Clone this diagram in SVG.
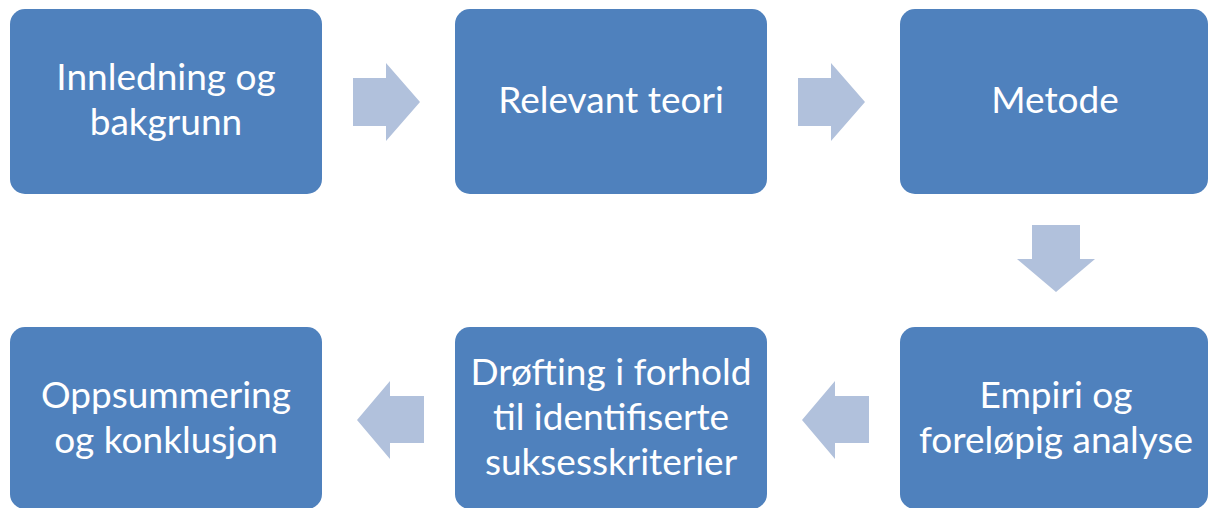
<svg xmlns="http://www.w3.org/2000/svg" width="1208" height="508" viewBox="0 0 1208 508">
  <style>
    .box { fill: #4F81BD; }
    .arrow { fill: #B1C1DC; }
    .label { fill: #FFFFFF; font-family: Lato, "Open Sans", "Liberation Sans", sans-serif; font-size: 37px; text-anchor: middle; }
  </style>
  <rect width="1208" height="508" fill="#FFFFFF"/>
  <g id="connectors">
    <polygon class="arrow" points="353,78 386,78 386,63 420,102 386,141 386,126 353,126"/>
    <polygon class="arrow" points="798,78 831,78 831,63 865,102 831,141 831,126 798,126"/>
    <polygon class="arrow" points="1032,225 1080,225 1080,259 1095,259 1056,292 1017,259 1032,259"/>
    <polygon class="arrow" points="869,396 835,396 835,381 802,420 835,459 835,443 869,443"/>
    <polygon class="arrow" points="424,396 390,396 390,381 357,420 390,459 390,443 424,443"/>
  </g>
  <g id="node-innledning">
    <rect class="box" x="10" y="9" width="312" height="185" rx="15"/>
    <text class="label" x="166" y="90">Innledning og</text>
    <text class="label" x="166" y="135">bakgrunn</text>
  </g>
  <g id="node-teori">
    <rect class="box" x="455" y="9" width="312" height="185" rx="15"/>
    <text class="label" x="611" y="113">Relevant teori</text>
  </g>
  <g id="node-metode">
    <rect class="box" x="900" y="9" width="308" height="185" rx="15"/>
    <text class="label" x="1055" y="113">Metode</text>
  </g>
  <g id="node-empiri">
    <rect class="box" x="900" y="327" width="308" height="182" rx="15"/>
    <text class="label" x="1056" y="408">Empiri og</text>
    <text class="label" x="1056" y="453">foreløpig analyse</text>
  </g>
  <g id="node-drofting">
    <rect class="box" x="455" y="327" width="312" height="182" rx="15"/>
    <text class="label" x="611" y="385">Drøfting i forhold</text>
    <text class="label" x="611" y="430">til identifiserte</text>
    <text class="label" x="611" y="475">suksesskriterier</text>
  </g>
  <g id="node-oppsummering">
    <rect class="box" x="10" y="327" width="312" height="182" rx="15"/>
    <text class="label" x="166" y="408">Oppsummering</text>
    <text class="label" x="166" y="453">og konklusjon</text>
  </g>
</svg>
